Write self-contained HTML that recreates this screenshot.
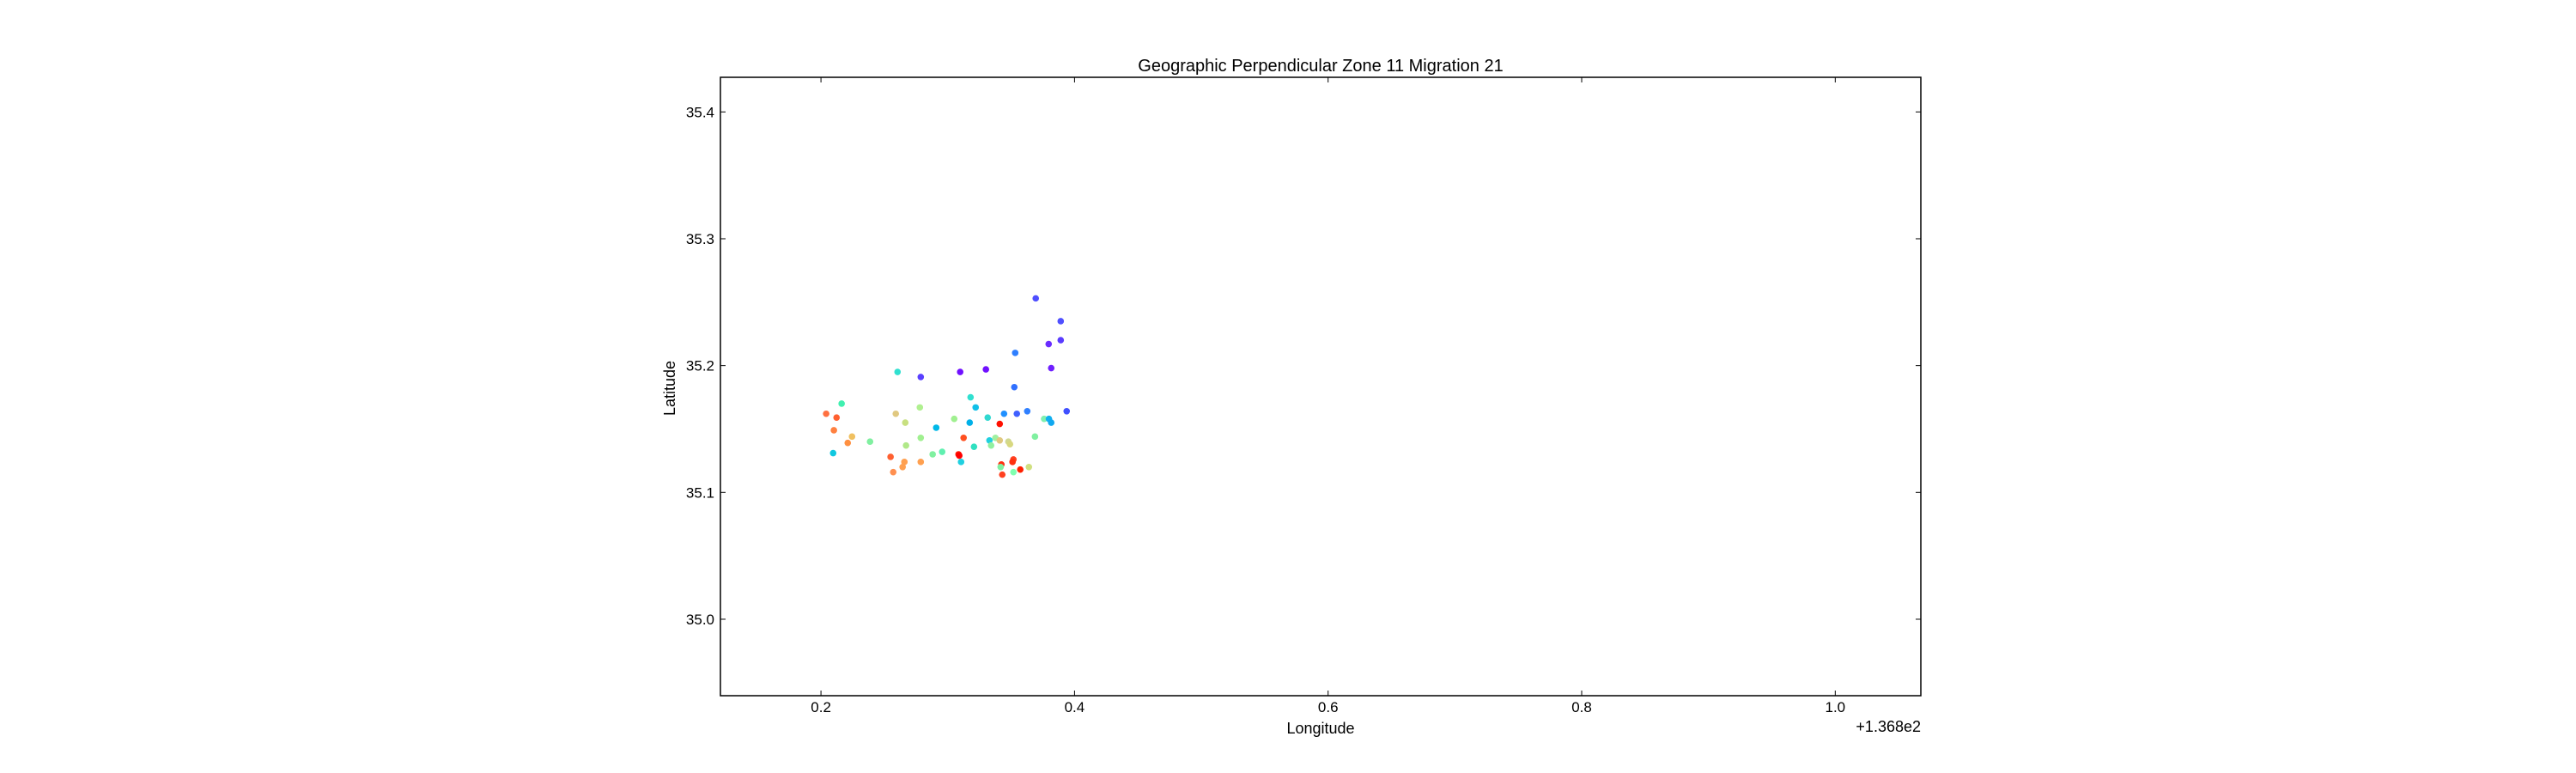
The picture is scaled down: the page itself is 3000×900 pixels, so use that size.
<!DOCTYPE html>
<html><head><meta charset="utf-8"><style>
html,body{margin:0;padding:0;background:#fff;}
svg{display:block;font-family:"Liberation Sans","DejaVu Sans",sans-serif;}
</style></head><body>
<svg id="chart" width="3000" height="900" viewBox="0 0 3000 900">
<rect x="0" y="0" width="3000" height="900" fill="#fff"/>
<text x="1538" y="83" text-anchor="middle" font-size="20" fill="#000">Geographic Perpendicular Zone 11 Migration 21</text>
<g id="points"></g>
<g id="axes"></g>
<text x="1538" y="854" text-anchor="middle" font-size="18">Longitude</text>
<text x="0" y="0" transform="translate(786,452) rotate(-90)" text-anchor="middle" font-size="18">Latitude</text>
<text x="2237" y="852" text-anchor="end" font-size="18">+1.368e2</text>
</svg>
<script>
const xs=[.3694,.3891,.3891,.3796,.3532,.3816,.2604,.2787,.3098,.3301,.3525,.3180,.3220,.2163,.2780,.2041,.2123,.2590,.3444,.3545,.3627,.3938,.3315,.3051,.3760,.3798,.3816,.3410,.2665,.3173,.2909,.2102,.2245,.2211,.2387,.2787,.3125,.3329,.3376,.3410,.3478,.3491,.3688,.2671,.3207,.3342,.2096,.2956,.2881,.2549,.3085,.3091,.3105,.2658,.2644,.2787,.3518,.3511,.3423,.3417,.3640,.3572,.2570,.3518,.3430];
const ys=[35.253,35.235,35.220,35.217,35.210,35.198,35.195,35.191,35.195,35.197,35.183,35.175,35.167,35.170,35.167,35.162,35.159,35.162,35.162,35.162,35.164,35.164,35.159,35.158,35.158,35.158,35.155,35.154,35.155,35.155,35.151,35.149,35.144,35.139,35.140,35.143,35.143,35.141,35.143,35.141,35.140,35.138,35.144,35.137,35.136,35.137,35.131,35.132,35.130,35.128,35.130,35.129,35.124,35.124,35.120,35.124,35.126,35.124,35.122,35.120,35.120,35.118,35.116,35.116,35.114];
const colors=["#4f4fff","#5050ff","#5a3cff","#6a2cff","#2f7fff","#6f1fff","#30e0d0","#5a40ff","#7010ff","#7010ff","#3070ff","#30e0d0","#10c0e8","#40f0b0","#b0f090","#ff7040","#ff6030","#e0c880","#2090ff","#4060ff","#3080ff","#4050ff","#30d8d0","#a0f090","#80f0b0","#10b0f0","#10a8f0","#ff1000","#c8e080","#00b0e8","#00b8e8","#ff8040","#f0c060","#ff9040","#80f0a0","#a0f090","#ff5020","#20d0e0","#a0f0a0","#e0c880","#d0d890","#d8d880","#80f0a0","#b0e888","#30e0c0","#90f0a0","#10c8e0","#60f0b0","#80f0a0","#ff6030","#ff1800","#ff0000","#20d0e0","#ffa050","#ffa050","#ffa050","#ff4020","#ff3010","#ff3010","#80f0a0","#d0e080","#ff2000","#ff9050","#80ffb0","#ff4020"];
const xTicks=[0.2,0.4,0.6,0.8,1.0];
const xTickLabels=["0.2","0.4","0.6","0.8","1.0"];
const yTicks=[35.0,35.1,35.2,35.3,35.4];
const yTickLabels=["35.0","35.1","35.2","35.3","35.4"];
const L=839,R=2237,T=90,B=810,XMIN=0.1207,XMAX=1.0675,YMIN=34.9397,YMAX=35.4273;
function sx(v){return L+(v-XMIN)/(XMAX-XMIN)*(R-L);}
function sy(v){return B-(v-YMIN)/(YMAX-YMIN)*(B-T);}
const NS="http://www.w3.org/2000/svg";
const pg=document.getElementById('points'),ax=document.getElementById('axes');
function mk(tag,attrs,parent){const e=document.createElementNS(NS,tag);for(const k in attrs)e.setAttribute(k,attrs[k]);parent.appendChild(e);return e;}
for(let i=0;i<xs.length;i++){
 const c=mk('circle',{cx:sx(xs[i]),cy:sy(ys[i]),r:3.8,fill:colors[i]},pg);
 
 
}
const frame=mk('rect',{x:L,y:T,width:R-L,height:B-T,fill:'none',stroke:'#000','stroke-width':1.5},ax);


xTicks.forEach((v,i)=>{
 const x=sx(v);
 mk('line',{x1:x,y1:B,x2:x,y2:B-6,stroke:'#000'},ax);
 mk('line',{x1:x,y1:T,x2:x,y2:T+6,stroke:'#000'},ax);
 const t=mk('text',{x:x,y:829,'text-anchor':'middle','font-size':17},ax);
 t.textContent=xTickLabels[i];
 
 
});
yTicks.forEach((v,i)=>{
 const y=sy(v);
 mk('line',{x1:L,y1:y,x2:L+6,y2:y,stroke:'#000'},ax);
 mk('line',{x1:R,y1:y,x2:R-6,y2:y,stroke:'#000'},ax);
 const t=mk('text',{x:832,y:y+6,'text-anchor':'end','font-size':17},ax);
 t.textContent=yTickLabels[i];
 
 
});
</script>
</body></html>
